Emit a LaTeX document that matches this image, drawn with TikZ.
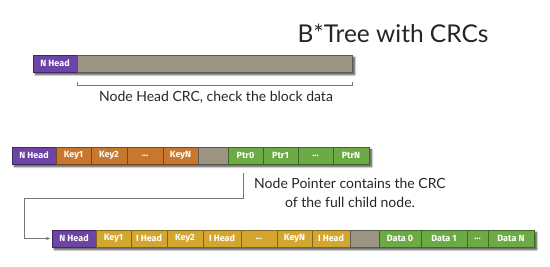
\documentclass[tikz,border=0pt]{standalone}
\usepackage{fontspec}
\setmainfont{Lato}
\newfontfamily\cellfont{Fira Sans}
\usetikzlibrary{shadows.blur,arrows.meta}
\definecolor{purp}{HTML}{6C44A6}
\definecolor{orng}{HTML}{C8782E}
\definecolor{khaki}{HTML}{9C9583}
\definecolor{grn}{HTML}{6BAA44}
\definecolor{gold}{HTML}{D3A72F}
\definecolor{linegray}{HTML}{777777}
\tikzset{
  cell/.style={rectangle, fill=#1, draw=#1!60!black, line width=0.6pt,
    minimum height=17pt, inner sep=0pt, outer sep=0pt, text=white,
    font=\cellfont\bfseries\fontsize{9}{10}\selectfont},
  rowshadow/.style={blur shadow={shadow xshift=2.5pt, shadow yshift=-2.5pt,
    shadow blur steps=6, shadow blur radius=2pt, shadow opacity=75}},
  desc/.style={text=black!85, font=\fontsize{14}{19}\selectfont, align=center, inner sep=0pt},
  conn/.style={draw=linegray, line width=0.7pt},
}
\begin{document}
\begin{tikzpicture}[x=1pt,y=-1pt]
\useasboundingbox (0,0) rectangle (550,266);
\node[text=black!85, font=\fontsize{24.5}{28}\selectfont, inner sep=0pt] (title) at (393,33) {B*Tree with CRCs};

% top block
\path[rowshadow] (33,55) rectangle (352,72);
\node[cell=purp, minimum width=44pt, minimum height=17pt] (t0) at (55,63.5) {N Head};
\node[cell=khaki, minimum width=275pt, minimum height=17pt] (t1) at (214.5,63.5) {};
\coordinate (b0) at (77,81.5);
\coordinate (b1) at (352,81.5);
\draw[conn] (b0) -- ++(0,3.5) coordinate (b0d) -- (b0d -| b1) -- (b1);
\node[desc] (d1) at (216,97) {Node Head CRC, check the block data};

% second row
\path[rowshadow] (12,147) rectangle (369,164);
\node[cell=purp, minimum width=44pt] (a0) at (34,155.5) {N Head};
\node[cell=orng, minimum width=35pt] (a1) at (73.5,155.5) {Key1};
\node[cell=orng, minimum width=36pt] (a2) at (109,155.5) {Key2};
\node[cell=orng, minimum width=36pt] (a3) at (145,155.5) {...};
\node[cell=orng, minimum width=35pt] (a4) at (180.5,155.5) {KeyN};
\node[cell=khaki, minimum width=30pt] (a5) at (213,155.5) {};
\node[cell=grn, minimum width=35pt] (a6) at (245.5,155.5) {Ptr0};
\node[cell=grn, minimum width=35pt] (a7) at (280.5,155.5) {Ptr1};
\node[cell=grn, minimum width=35pt] (a8) at (315.5,155.5) {...};
\node[cell=grn, minimum width=36pt] (a9) at (351,155.5) {PtrN};

\node[desc] (d2) at (350,193) {Node Pointer contains the CRC\\of the full child node.};

% third row
\path[rowshadow] (52,230) rectangle (534,247);
\node[cell=purp, minimum width=44pt] (c0) at (74,238.5) {N Head};
\node[cell=gold, minimum width=35pt] (c1) at (113.5,238.5) {Key1};
\node[cell=gold, minimum width=36pt] (c2) at (149,238.5) {I Head};
\node[cell=gold, minimum width=36pt] (c3) at (185,238.5) {Key2};
\node[cell=gold, minimum width=38pt] (c4) at (222,238.5) {I Head};
\node[cell=gold, minimum width=36pt] (c5) at (259,238.5) {...};
\node[cell=gold, minimum width=35pt] (c6) at (294.5,238.5) {KeyN};
\node[cell=gold, minimum width=38pt] (c7) at (331,238.5) {I Head};
\node[cell=khaki, minimum width=29pt] (c8) at (364.5,238.5) {};
\node[cell=grn, minimum width=42pt] (c9) at (400,238.5) {Data 0};
\node[cell=grn, minimum width=46pt] (c10) at (444,238.5) {Data 1};
\node[cell=grn, minimum width=21pt] (c11) at (477.5,238.5) {...};
\node[cell=grn, minimum width=46pt] (c12) at (511,238.5) {Data N};

% connector
\coordinate (p0) at (243,173);
\coordinate (p1) at (24,198);
\draw[conn, -{Stealth[length=4pt,width=3.5pt]}, shorten >=2pt] (p0) |- (p1) |- (c0.west);
\end{tikzpicture}
\end{document}
